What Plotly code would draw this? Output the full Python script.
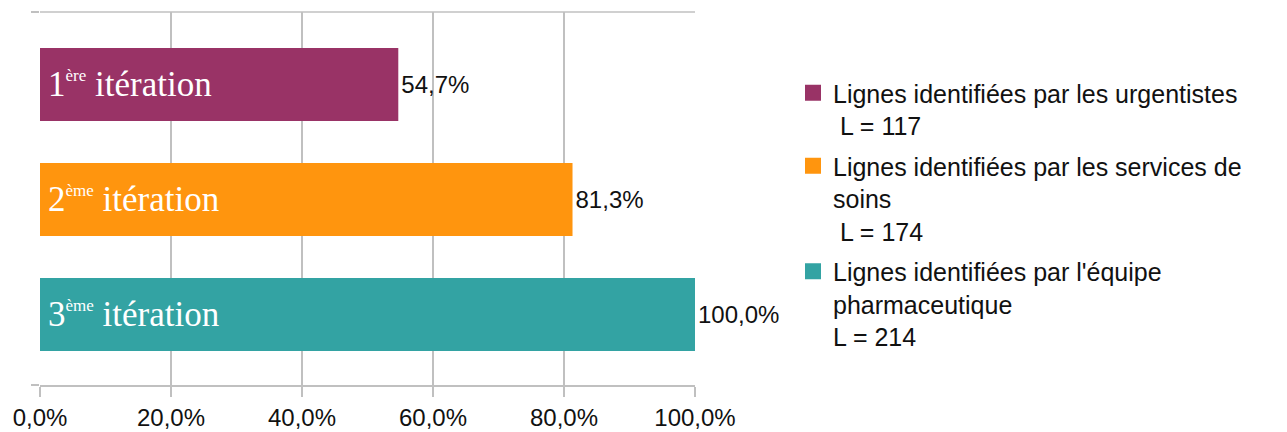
import plotly.graph_objects as go

categories = ["1ère itération", "2ème itération", "3ème itération"]
bar_labels = [
    "1<sup><span style='font-size:17px'>ère</span></sup> itération",
    "2<sup><span style='font-size:17px'>ème</span></sup> itération",
    "3<sup><span style='font-size:17px'>ème</span></sup> itération",
]
values = [0.547, 0.813, 1.0]
series_names = [
    "Lignes identifiées par les urgentistes<br>\u00a0L = 117",
    "Lignes identifiées par les services de<br>soins<br>\u00a0L = 174",
    "Lignes identifiées par l'équipe<br>pharmaceutique<br>L = 214",
]
colors = ["#993366", "#ff950e", "#33a3a3"]
x_ticks = [0, 0.2, 0.4, 0.6, 0.8, 1.0]

GRID = "#c0c0c0"
SANS = "Liberation Sans, Arial, sans-serif"
SERIF = "Liberation Serif, Times New Roman, serif"

fig = go.Figure()
for i, (cat, val, name, col) in enumerate(zip(categories, values, series_names, colors)):
    fig.add_trace(go.Bar(
        y=[cat], x=[val], orientation="h", width=0.635,
        marker=dict(color=col, line=dict(width=0)),
        texttemplate="%{x:.1%}", textposition="outside",
        textfont=dict(family=SANS, size=24, color="#111111"),
        constraintext="none", cliponaxis=False,
        showlegend=False, hoverinfo="skip", legendgroup=f"g{i}",
    ))
    # legend proxy (square swatch)
    fig.add_trace(go.Scatter(
        x=[None], y=[None], mode="markers", name=name,
        legendgroup=f"g{i}",
        marker=dict(symbol="square", size=16, color=col),
        showlegend=True,
    ))

for cat, lab in zip(categories, bar_labels):
    fig.add_annotation(
        x=0, y=cat, xref="x", yref="y", text=lab, showarrow=False,
        xanchor="left", yanchor="middle", xshift=6,
        font=dict(family=SERIF, size=35, color="white"),
    )

# top border of the plot area (drawn like a gridline)
fig.add_shape(type="line", xref="paper", yref="paper", x0=0, x1=1, y0=1, y1=1,
              line=dict(color=GRID, width=1.5), layer="below")

fig.update_layout(
    width=1287, height=432,
    margin=dict(l=40, r=592, t=12, b=47, autoexpand=False),
    plot_bgcolor="white", paper_bgcolor="white",
    barmode="overlay",
    separators=", ",
    showlegend=True,
    legend=dict(
        xref="container", yref="container",
        x=793 / 1287, y=1 - 70 / 432, xanchor="left", yanchor="top",
        font=dict(family=SANS, size=25, color="#111111"),
        traceorder="grouped", valign="top", itemsizing="trace",
        tracegroupgap=5, bgcolor="rgba(0,0,0,0)", maxheight=432,
    ),
    xaxis=dict(
        range=[0, 1], tickmode="array", tickvals=x_ticks, tickformat=".1%",
        showgrid=True, gridcolor=GRID, gridwidth=1.5,
        showline=True, linecolor=GRID, linewidth=1.5,
        ticks="outside", ticklen=10, tickcolor=GRID, tickwidth=1.5,
        tickfont=dict(family=SANS, size=24, color="#111111"),
        zeroline=False, fixedrange=True, automargin=False,
    ),
    yaxis=dict(
        type="category", categoryorder="array", categoryarray=categories,
        range=[2.613, -0.63],
        tickmode="array", tickvals=[-0.63, 2.613],
        showticklabels=False,
        ticks="outside", ticklen=8, tickcolor=GRID, tickwidth=1.5,
        showgrid=True, gridcolor=GRID, gridwidth=1.5,
        showline=False, zeroline=False, fixedrange=True, automargin=False,
    ),
)

fig.write_html(
    "out.html",
    config={"displayModeBar": False},
    post_script="document.body.style.margin='0';document.body.style.overflow='hidden';",
)
